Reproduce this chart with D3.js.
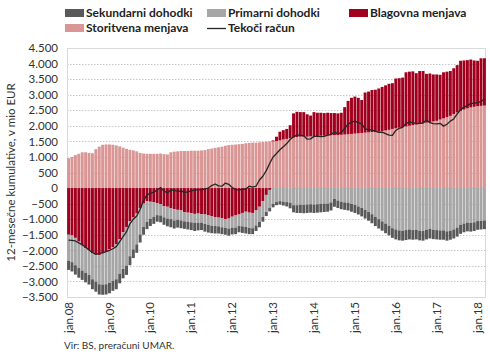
<!DOCTYPE html>
<html>
<head>
<meta charset="utf-8">
<script src="https://cdn.jsdelivr.net/npm/d3@7"></script>
<style>
  body { margin: 0; background: #fff; }
  svg { display: block; font-family: Lato, "Open Sans", sans-serif; }
</style>
</head>
<body>
<div id="chart"></div>
<script>
// Monthly data, jan.2008 - mar.2018 (12-month cumulative, mio EUR)
const startYear = 2008;
const monthCount = 123;

const storitvena = [
  960, 1000, 1060, 1100, 1150, 1150, 1130, 1120, 1250, 1330, 1390, 1400,
  1400, 1390, 1370, 1340, 1300, 1260, 1230, 1210, 1180, 1130, 1110, 1100,
  1100, 1100, 1100, 1110, 1090, 1080, 1150, 1170, 1180, 1190, 1190, 1190,
  1200, 1200, 1200, 1210, 1220, 1250, 1270, 1290, 1310, 1330, 1360, 1380,
  1390, 1400, 1410, 1420, 1440, 1450, 1460, 1460, 1470, 1480, 1490, 1500,
  1500, 1510, 1530, 1560, 1580, 1600, 1620, 1640, 1650, 1650, 1650, 1660,
  1660, 1670, 1680, 1680, 1690, 1700, 1700, 1700, 1710, 1720, 1730, 1740,
  1750, 1760, 1770, 1780, 1790, 1800, 1800, 1810, 1830, 1850, 1870, 1900,
  1920, 1940, 1960, 1980, 2000, 2020, 2040, 2060, 2080, 2100, 2120, 2140,
  2160, 2200, 2240, 2280, 2320, 2380, 2430, 2480, 2520, 2560, 2590, 2610,
  2630, 2640, 2650
];

const blagovna = [
  -1500, -1520, -1600, -1720, -1850, -1930, -2000, -2100, -2130, -2150, -2100, -2060,
  -1970, -1900, -1800, -1650, -1420, -1250, -1070, -950, -820, -640, -500, -420,
  -440, -460, -480, -520, -580, -600, -640, -680, -700, -720, -770, -790,
  -810, -830, -820, -840, -850, -880, -900, -930, -950, -970, -1000, -980,
  -920, -880, -850, -800, -760, -790, -800, -720, -600, -420, -220, -60,
  30, 140, 280, 300, 320, 420, 780, 810, 790, 790, 720, 670,
  780, 750, 740, 730, 730, 710, 710, 700, 710, 880, 1070, 1160,
  1190, 1140, 1060, 1290, 1310, 1350, 1360, 1390, 1420, 1450, 1480, 1470,
  1600, 1590, 1590, 1740, 1740, 1730, 1650, 1700, 1680, 1570, 1560, 1510,
  1490, 1440, 1480, 1460, 1440, 1470, 1520, 1610, 1580, 1550, 1540, 1490,
  1460, 1530, 1520
];

const primarni = [
  -840, -860, -880, -850, -800, -790, -790, -830, -880, -940, -1000, -1030,
  -1080, -1080, -1130, -1100, -1180, -1240, -1120, -1020, -990, -850, -750, -660,
  -550, -470, -390, -360, -360, -380, -360, -360, -320, -320, -300, -290,
  -290, -290, -290, -270, -300, -300, -310, -290, -280, -290, -280, -320,
  -350, -390, -370, -430, -490, -490, -490, -480, -490, -510, -550, -570,
  -510, -450, -420, -440, -450, -470, -550, -550, -540, -540, -530, -520,
  -530, -520, -510, -500, -500, -460, -350, -400, -440, -460, -470, -510,
  -540, -590, -640, -700, -770, -840, -930, -1000, -1070, -1140, -1210, -1290,
  -1330, -1360, -1370, -1350, -1330, -1350, -1340, -1370, -1380, -1340, -1310, -1340,
  -1350, -1360, -1360, -1390, -1370, -1330, -1270, -1180, -1140, -1110, -1120, -1100,
  -1060, -1050, -1040
];

const sekundarni = [
  -290, -300, -300, -310, -300, -310, -310, -320, -320, -330, -330, -330,
  -330, -320, -320, -310, -300, -300, -290, -280, -270, -260, -250, -240,
  -230, -220, -210, -220, -240, -250, -260, -260, -250, -250, -240, -250,
  -250, -260, -250, -240, -250, -250, -240, -240, -230, -220, -220, -230,
  -220, -210, -200, -210, -210, -200, -190, -180, -170, -150, -130, -120,
  -110, -100, -110, -120, -140, -180, -230, -250, -260, -270, -270, -270,
  -270, -270, -270, -270, -260, -260, -250, -240, -240, -240, -250, -250,
  -260, -260, -270, -280, -280, -290, -290, -300, -300, -310, -310, -310,
  -320, -320, -320, -320, -320, -310, -310, -310, -310, -310, -310, -300,
  -300, -300, -300, -300, -290, -290, -290, -290, -280, -280, -280, -280,
  -280, -280, -280
];

const tekoci = [
  -1670, -1680, -1700, -1760, -1820, -1900, -1990, -2070, -2130, -2100, -2080, -2040,
  -2000, -1950, -1880, -1720, -1560, -1400, -1150, -1000, -900, -680, -400, -220,
  -170, -130, -60, 20, -100, -150, -60, -70, -110, -90, -140, -120,
  -90, -60, -60, -50, -30, 0, 80, 130, 70, 60, 160, 120,
  20, -50, -60, -40, -30, 60, 30, 60, 260, 380, 560, 790,
  1000, 1110, 1230, 1330, 1430, 1560, 1650, 1700, 1700, 1680, 1570, 1580,
  1660, 1660, 1650, 1660, 1700, 1720, 1800, 1750, 1780, 1920, 2050, 2120,
  2150, 2100, 2060, 1900, 1880, 1860, 1830, 1790, 1800, 1750, 1700, 1690,
  1850, 1920, 1950, 2080, 2120, 2100, 2070, 2080, 2090, 2190, 2100, 2070,
  2060, 2080, 1990, 2050, 2150, 2220, 2380, 2520, 2600, 2650, 2720, 2720,
  2750, 2780, 2860
];

const yTicks = [-3500, -3000, -2500, -2000, -1500, -1000, -500, 0, 500, 1000, 1500, 2000, 2500, 3000, 3500, 4000, 4500];
const xTickLabels = ["jan.08", "jan.09", "jan.10", "jan.11", "jan.12", "jan.13", "jan.14", "jan.15", "jan.16", "jan.17", "jan.18"];

// Series definitions (stack order: positive up from zero, negative down from zero)
const seriesInfo = [
  { key: "storitvena", name: "Storitvena menjava", color: "#d99694" },
  { key: "blagovna", name: "Blagovna menjava", color: "#a0001e" },
  { key: "primarni", name: "Primarni dohodki", color: "#a6a6a6" },
  { key: "sekundarni", name: "Sekundarni dohodki", color: "#595959" }
];

// Build table rows
const rows = d3.range(monthCount).map((i) => ({
  idx: i,
  label: i % 12 === 0 ? "jan." + String((startYear + i / 12) % 100).padStart(2, "0") : "",
  storitvena: storitvena[i],
  blagovna: blagovna[i],
  primarni: primarni[i],
  sekundarni: sekundarni[i],
  tekoci: tekoci[i]
}));

const width = 490;
const height = 354;
const plot = { left: 67, right: 486, top: 48, bottom: 297 };

const svg = d3
  .select("#chart")
  .append("svg")
  .attr("width", width)
  .attr("height", height);

// Scales
const x = d3
  .scaleBand()
  .domain(rows.map((d) => d.idx))
  .range([plot.left, plot.right])
  .paddingInner(0.14)
  .paddingOuter(0.03);

const y = d3.scaleLinear().domain([-3500, 4500]).range([plot.bottom, plot.top]);

// Grid lines (dotted)
svg
  .append("g")
  .selectAll("line")
  .data(yTicks)
  .join("line")
  .attr("x1", plot.left)
  .attr("x2", plot.right)
  .attr("y1", (d) => Math.round(y(d)) + 0.5)
  .attr("y2", (d) => Math.round(y(d)) + 0.5)
  .attr("stroke", "#c8c8c8")
  .attr("stroke-width", 1)
  .attr("stroke-dasharray", "1.5,1.5");

// Plot frame
svg
  .append("rect")
  .attr("x", plot.left + 0.5)
  .attr("y", plot.top + 0.5)
  .attr("width", plot.right - plot.left - 1)
  .attr("height", plot.bottom - plot.top)
  .attr("fill", "none")
  .attr("stroke", "#d9d9d9");

// Stacked bars
const stack = d3
  .stack()
  .keys(seriesInfo.map((s) => s.key))
  .offset(d3.stackOffsetDiverging);
const stacked = stack(rows);

svg
  .append("g")
  .selectAll("g")
  .data(stacked)
  .join("g")
  .attr("fill", (d, i) => seriesInfo[i].color)
  .selectAll("rect")
  .data((d) => d)
  .join("rect")
  .attr("x", (d) => x(d.data.idx))
  .attr("width", x.bandwidth())
  .attr("y", (d) => y(Math.max(d[0], d[1])))
  .attr("height", (d) => Math.abs(y(d[0]) - y(d[1])));

// Current account line
const line = d3
  .line()
  .x((d) => x(d.idx) + x.bandwidth() / 2)
  .y((d) => y(d.tekoci));

svg
  .append("path")
  .datum(rows)
  .attr("fill", "none")
  .attr("stroke", "#262626")
  .attr("stroke-width", 1.3)
  .attr("stroke-linejoin", "round")
  .attr("d", line);

// Y axis labels
const yAxis = svg
  .append("g")
  .attr("transform", `translate(${plot.left},0)`)
  .call(
    d3
      .axisLeft(y)
      .tickValues(yTicks)
      .tickSize(0)
      .tickPadding(9)
      .tickFormat((d) => d3.format(",")(d).replace(/,/g, "."))
  );
yAxis.select(".domain").remove();
yAxis.selectAll("text").attr("font-size", "11.5px").attr("fill", "#333").attr("font-family", "Lato, sans-serif");

// X axis labels (rotated, January only)
const xAxis = svg
  .append("g")
  .attr("transform", `translate(0,${plot.bottom})`)
  .call(
    d3
      .axisBottom(x)
      .tickValues(rows.filter((d) => d.label).map((d) => d.idx))
      .tickSize(0)
      .tickFormat((d) => rows[d].label)
  );
xAxis.select(".domain").remove();
xAxis
  .selectAll("text")
  .attr("font-size", "11.5px")
  .attr("fill", "#333")
  .attr("font-family", "Lato, sans-serif")
  .attr("transform", "rotate(-90)")
  .attr("x", -5)
  .attr("y", 0)
  .attr("dy", "0.35em")
  .style("text-anchor", "end");

// Y axis title
svg
  .append("text")
  .attr("transform", `translate(15,${(plot.top + plot.bottom) / 2}) rotate(-90)`)
  .attr("text-anchor", "middle")
  .attr("font-size", "11.5px")
  .attr("fill", "#333")
  .text("12-mesečne kumulative, v mio EUR");

// Legend
const legendItems = [
  { name: "Sekundarni dohodki", color: "#595959", type: "rect", x: 65, y: 13 },
  { name: "Primarni dohodki", color: "#a6a6a6", type: "rect", x: 207, y: 13 },
  { name: "Blagovna menjava", color: "#a0001e", type: "rect", x: 349, y: 13 },
  { name: "Storitvena menjava", color: "#d99694", type: "rect", x: 65, y: 28 },
  { name: "Tekoči račun", color: "#262626", type: "line", x: 207, y: 28 }
];

const legend = svg
  .append("g")
  .selectAll("g")
  .data(legendItems)
  .join("g")
  .attr("transform", (d) => `translate(${d.x},${d.y})`);

legend
  .filter((d) => d.type === "rect")
  .append("rect")
  .attr("x", 0)
  .attr("y", -4)
  .attr("width", 19)
  .attr("height", 8)
  .attr("fill", (d) => d.color);

legend
  .filter((d) => d.type === "line")
  .append("line")
  .attr("x1", 0)
  .attr("x2", 19)
  .attr("y1", 0.5)
  .attr("y2", 0.5)
  .attr("stroke", (d) => d.color)
  .attr("stroke-width", 1.3);

legend
  .append("text")
  .attr("x", 21)
  .attr("y", 0)
  .attr("dy", "0.35em")
  .attr("font-size", "12px")
  .attr("font-weight", "bold")
  .attr("fill", "#222")
  .text((d) => d.name);

// Source note
svg
  .append("text")
  .attr("x", 64)
  .attr("y", 349)
  .attr("font-size", "10px")
  .attr("fill", "#333")
  .text("Vir: BS, preračuni UMAR.");
</script>
</body>
</html>
